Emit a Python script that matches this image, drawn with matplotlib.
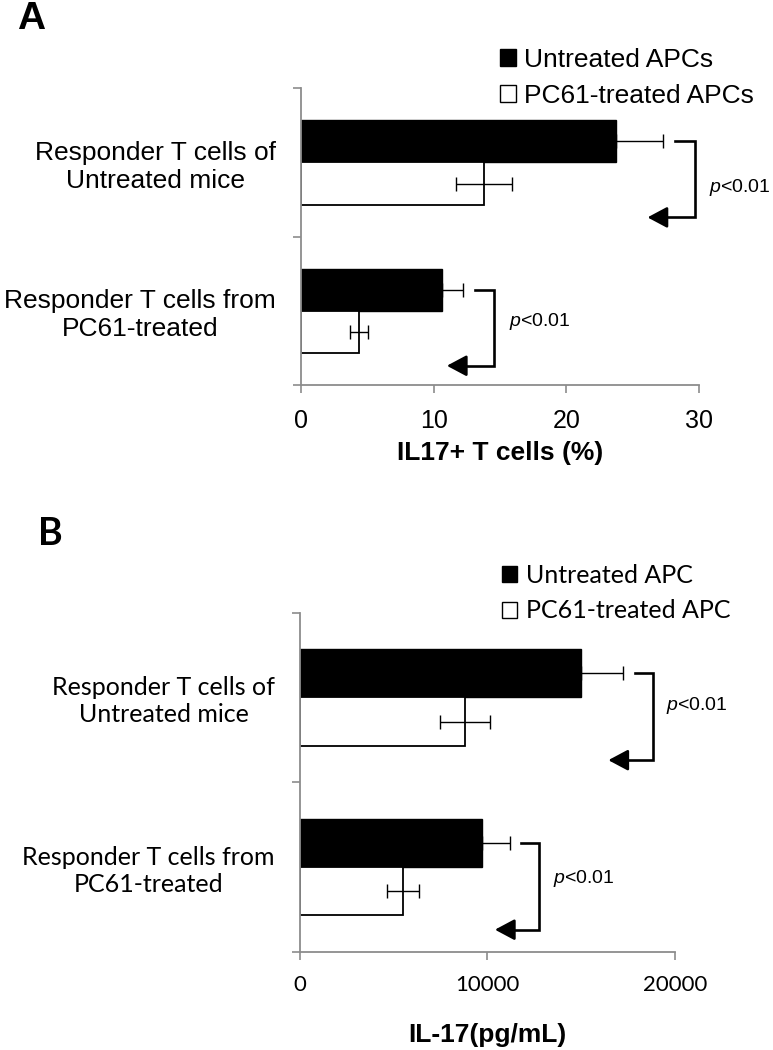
import numpy as np
import matplotlib.pyplot as plt
from matplotlib.patches import Patch

plt.rcParams['mathtext.fontset'] = 'custom'
plt.rcParams['mathtext.rm'] = 'Liberation Sans'
plt.rcParams['mathtext.it'] = 'Liberation Sans:italic'

### Data
groups_a = ['Responder T cells of\nUntreated mice', 'Responder T cells from\nPC61-treated']
untreated_a = [23.7, 10.6]
untreated_a_err = [3.6, 1.6]
pc61_a = [13.8, 4.4]
pc61_a_err = [2.1, 0.7]
legend_a = ['Untreated APCs', 'PC61-treated APCs']
xticks_a = [0, 10, 20, 30]

groups_b = ['Responder T cells of\nUntreated mice', 'Responder T cells from\nPC61-treated']
untreated_b = [15000, 9700]
untreated_b_err = [2250, 1500]
pc61_b = [8800, 5500]
pc61_b_err = [1350, 870]
legend_b = ['Untreated APC', 'PC61-treated APC']
xticks_b = [0, 10000, 20000]

pvals = ['$\\it{p}$<0.01', '$\\it{p}$<0.01']

AXIS_GRAY = '#8c8c8c'


def draw_panel(ax, groups, black, black_err, white, white_err, xticks, xlabel,
               font, size_cat, size_tick, tick_pad, label_pad, text_y):
    y = np.arange(len(groups))
    h = 0.285
    xmax = xticks[-1]
    # black bars, error only to the right
    ax.barh(y - h / 2, black, height=h, color='black', edgecolor='black', lw=1,
            xerr=[np.zeros(len(black)), black_err],
            error_kw=dict(ecolor='black', elinewidth=1, capsize=5, capthick=1))
    # white bars, error both sides
    ax.barh(y + h / 2, white, height=h, color='white', edgecolor='black', lw=1.3,
            xerr=white_err,
            error_kw=dict(ecolor='black', elinewidth=1, capsize=5, capthick=1))

    ax.set_xlim(0, xmax)
    ax.set_ylim(len(groups) - 0.5, -0.5)
    ax.set_xticks(xticks)
    ax.set_xticklabels([str(t) for t in xticks], fontsize=size_tick, family=font)
    ax.set_yticks(np.arange(len(groups) + 1) - 0.5)
    ax.set_yticklabels([])
    ax.set_yticks(y, groups, minor=True)
    for lab in ax.get_yticklabels(minor=True):
        lab.set_fontsize(size_cat)
        lab.set_family(font)
        lab.set_multialignment('center')
    ax.tick_params(axis='y', which='minor', length=0, pad=18)
    ax.tick_params(axis='both', which='major', length=6, width=1.2, color=AXIS_GRAY)
    ax.tick_params(axis='x', pad=tick_pad)
    for s in ['top', 'right']:
        ax.spines[s].set_visible(False)
    for s in ['left', 'bottom']:
        ax.spines[s].set_color(AXIS_GRAY)
        ax.spines[s].set_linewidth(1.3)
    ax.set_xlabel(xlabel, fontsize=19, fontweight='bold', family='Liberation Sans',
                  labelpad=label_pad)

    # significance brackets
    for i in range(len(groups)):
        end = black[i] + black_err[i]
        x0 = end + 0.03 * xmax
        xv = end + 0.078 * xmax
        tip = end - 0.04 * xmax
        top = i - h / 2
        bot = i + 0.37
        ax.plot([x0, xv, xv, tip + 0.03 * xmax], [top, top, bot, bot],
                color='black', lw=1.9, solid_joinstyle='miter', clip_on=False)
        ax.annotate('', xy=(tip, bot), xytext=(tip + 0.035 * xmax, bot),
                    arrowprops=dict(arrowstyle='-|>,head_length=0.6,head_width=0.32',
                                    color='black', lw=1.9, shrinkA=0, shrinkB=0,
                                    mutation_scale=20),
                    annotation_clip=False)
        ax.text(xv + 0.037 * xmax, i + text_y[i], pvals[i], fontsize=14,
                family='Liberation Sans', ha='left', va='center')


fig = plt.figure(figsize=(7.73, 10.5), dpi=100)

### Panel A
ax_a = fig.add_axes([0.389, 0.6333, 0.5157, 0.2826])
draw_panel(ax_a, groups_a, untreated_a, untreated_a_err, pc61_a, pc61_a_err,
           xticks_a, 'IL17+ T cells (%)', 'Liberation Sans', 19, 18, 11, 6,
           [0.17, 0.07])
handles_a = [Patch(facecolor='black', edgecolor='black'),
             Patch(facecolor='white', edgecolor='black')]
fig.legend(handles_a, legend_a, loc='upper left', bbox_to_anchor=(500 / 773, 1 - 48 / 1050),
           frameon=False, prop=dict(family='Liberation Sans', size=19),
           handlelength=0.6, handleheight=0.6, handletextpad=0.3,
           labelspacing=0.45, borderpad=0, borderaxespad=0)
fig.text(31 / 773, 1 - 19 / 1050, 'A', fontsize=28, fontweight='bold',
         family='Liberation Sans', ha='center', va='center')

### Panel B
ax_b = fig.add_axes([0.388, 0.0936, 0.4851, 0.3229])
draw_panel(ax_b, groups_b, untreated_b, untreated_b_err, pc61_b, pc61_b_err,
           xticks_b, 'IL-17(pg/mL)', 'Lato', 18, 16, 11, 20,
           [0.05, 0.07])
handles_b = [Patch(facecolor='black', edgecolor='black'),
             Patch(facecolor='white', edgecolor='black')]
fig.legend(handles_b, legend_b, loc='upper left', bbox_to_anchor=(502 / 773, 1 - 564 / 1050),
           frameon=False, prop=dict(family='Lato', size=18),
           handlelength=0.6, handleheight=0.6, handletextpad=0.35,
           labelspacing=0.5, borderpad=0, borderaxespad=0)
fig.text(50 / 773, 1 - 534 / 1050, 'B', fontsize=27, fontweight='bold',
         family='Lato', ha='center', va='center')

fig.savefig('out.png', dpi=100, facecolor='white')
